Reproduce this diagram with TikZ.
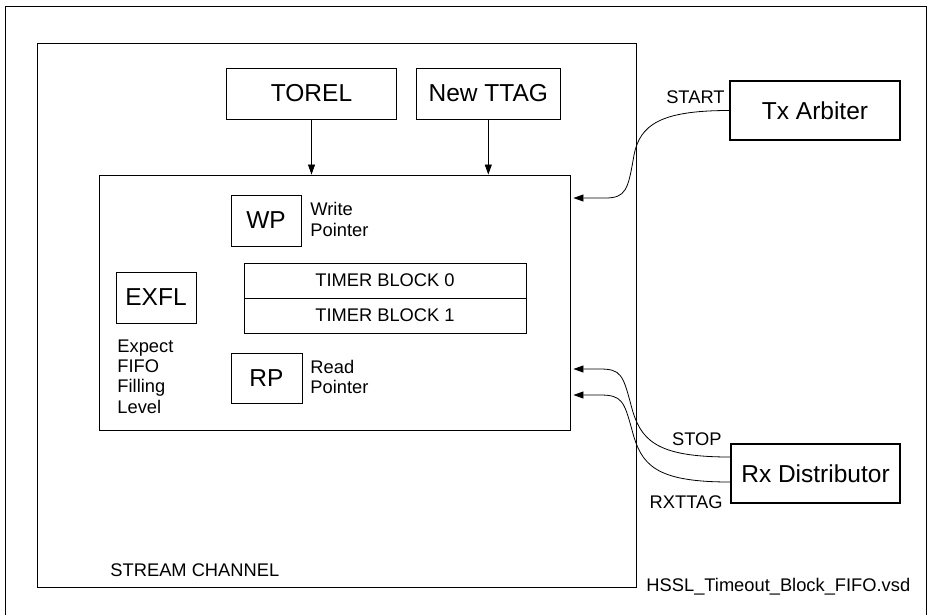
\documentclass[tikz,border=0pt]{standalone}
\usepackage{fontspec}
\setmainfont{Liberation Sans}
\usetikzlibrary{arrows.meta}

\begin{document}
\begin{tikzpicture} [
        x=1pt, y=-1pt,
        line width=0.9pt,
        blk/.style n args={2}{
        draw,rectangle,
        minimum width=#1pt,
        minimum height=#2pt,
        inner sep=0pt,
        font=\fontsize{24.5}{28}\selectfont
        },
        unit/.style n args={2}{
        blk={#1}{#2},line width=2.2pt
        },
        tbl/.style={
        draw,rectangle,minimum width=282pt,minimum height=35pt,
        inner sep=0pt,font=\fontsize{18.3}{20.3}\selectfont
        },
        txt/.style={
        inner sep=0pt,align=left,font=\fontsize{18.3}{20.3}\selectfont
        },
        sig/.style={-{Triangle[length=10pt,width=7pt]},line width=0.8pt}
    ]

        % 坐标单位是像素, y 向下

    \useasboundingbox (0,0) rectangle (928,614);
    \draw (5.5,620) -- (5.5,6) -- (926,6) -- (926,620);

    \node[blk = {599}{544.5}](stream) at (337,315.25) {};
    \node[txt, anchor=west](lstream) at (110,570) {STREAM CHANNEL};

    \node[blk = {169.5}{51}](torel) at (311.5,93.5) {TOREL};
    \node[blk = {143.3}{51}](newttag) at (488.3,93.5) {New TTAG};

    \node[blk = {471}{255}](fifo) at (335,302.5) {};

    \node[blk = {70}{51}](wp) at (266,220.5) {WP};
    \node[txt, anchor=west](lwp) at (310,219.5) {Write\\Pointer};

    \foreach \i/\y in {0/280.5,1/315.5}
        \node[tbl](tb\i) at (385,\y) {TIMER BLOCK \i};

    \node[blk = {80}{51}](exfl) at (156,297.5) {EXFL};
    \node[txt, anchor=west](lexfl) at (117,376.5) {Expect\\FIFO\\Filling\\Level};

    \node[blk = {71}{50}](rp) at (266.5,378) {RP};
    \node[txt, anchor=west](lrp) at (310,377) {Read\\Pointer};

    \node[unit = {170}{59}](tx) at (815,110.5) {Tx Arbiter};
    \node[unit = {169}{59}](rx) at (815.5,473.5) {Rx Distributor};

    \node[txt, anchor=east](lstart) at (725,97) {START};
    \node[txt, anchor=east](lstop) at (722,439) {STOP};
    \node[txt, anchor=east](lrxttag) at (723,502) {RXTTAG};
    \node[txt, anchor=west](lfile) at (646,587) {HSSL\_Timeout\_Block\_FIFO.vsd};

    \draw[sig] (torel) -- (torel |- fifo.north);
    \draw[sig] (newttag) -- (newttag |- fifo.north);

    \coordinate (inStart) at ([xshift=2.5pt]fifo.east |- 0,198);
    \coordinate (inStop) at ([xshift=2.5pt]fifo.east |- 0,369);
    \coordinate (inRxttag) at ([xshift=2.5pt]fifo.east |- 0,395);

    \draw[sig] (tx.west) .. controls (660,110.5) and (640,125) .. (634,155)
        .. controls (628,190) and (626,198) .. (605,198) -- (inStart);
    \draw[sig] ([yshift=16.5pt]rx.west) .. controls (655,457) and (640,440) .. (631,405)
        .. controls (623,375) and (621,369) .. (600,369) -- (inStop);
    \draw[sig] ([yshift=-8.5pt]rx.west) .. controls (655,482) and (641,465) .. (632,430)
        .. controls (624,401) and (622,395) .. (600,395) -- (inRxttag);

    \end{tikzpicture}
\end{document}
